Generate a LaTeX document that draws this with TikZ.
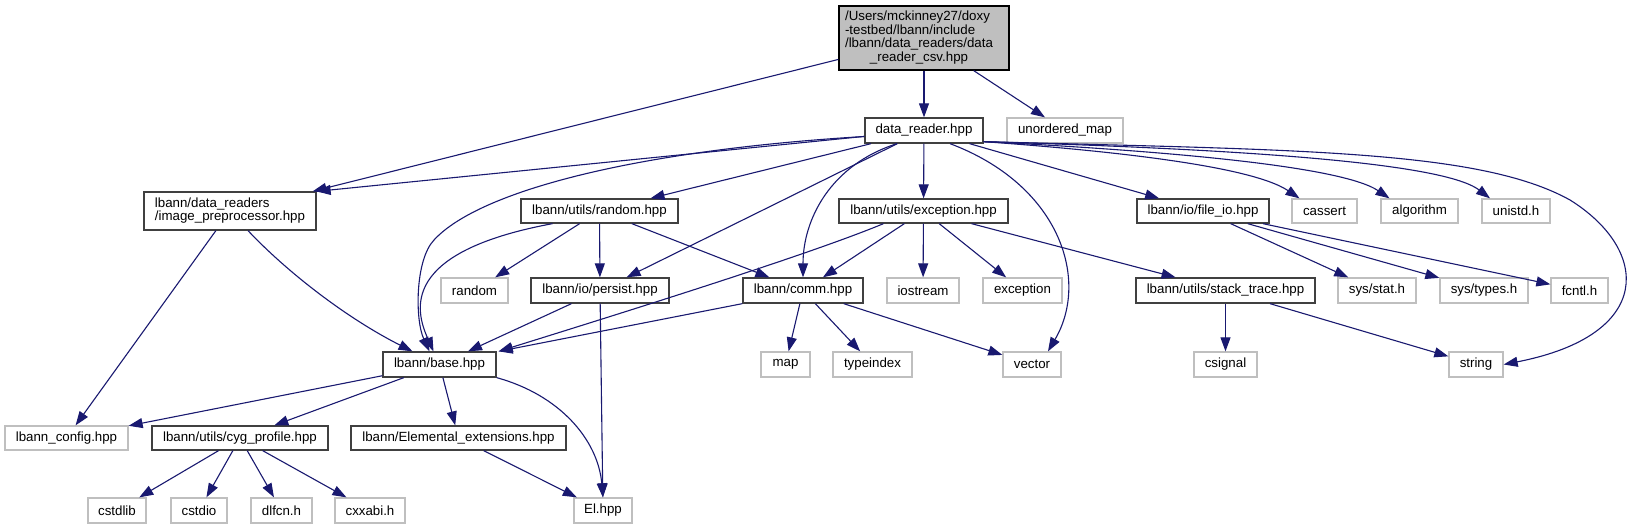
\documentclass[tikz,border=0pt]{standalone}
\usepackage{fontspec}
\setmainfont{Liberation Sans}
\usetikzlibrary{arrows.meta}
\definecolor{edgeblue}{HTML}{191970}
\definecolor{extgray}{HTML}{BFBFBF}
\definecolor{docborder}{HTML}{404040}
\begin{document}
\begin{tikzpicture}[x=1pt,y=-1pt,
  every node/.style={font=\fontsize{13.3pt}{13.3pt}\selectfont, inner sep=0pt, text=black},
  doc/.style={draw=docborder, line width=1.3pt, fill=white, minimum height=25pt},
  ext/.style={draw=extgray, line width=1.3pt, fill=white, minimum height=25pt},
  rootbox/.style={draw=black, line width=1.3pt, fill=extgray, minimum width=170pt, minimum height=64pt},
  edge/.style={draw=edgeblue, line width=1.1pt, -{Triangle[length=14pt,width=10pt]}},
]
\fill[white] (0,0) rectangle (1636,529);
\useasboundingbox (0,0) rectangle (1636,529);

% row 0
\node[rootbox] (root) at (924,38) {\begin{tabular}{@{}l@{\hspace{10pt}}}/Users/mckinney27/doxy\\-testbed/lbann/include\\/lbann/data\_readers/data\\\multicolumn{1}{@{}c@{\hspace{10pt}}}{\_reader\_csv.hpp}\end{tabular}};
% row 1
\node[doc, minimum width=118pt] (dr) at (924,130.5) {data\_reader.hpp};
\node[ext, minimum width=116pt] (um) at (1065,130.5) {unordered\_map};
% row 2
\node[doc, minimum width=172pt, minimum height=38pt] (imgpre) at (230,211) {\begin{tabular}{@{}l@{}}lbann/data\_readers\\/image\_preprocessor.hpp\end{tabular}};
\node[doc, minimum width=157pt, minimum height=24pt] (randh) at (599.5,211) {lbann/utils/random.hpp};
\node[doc, minimum width=169pt, minimum height=24pt] (exh) at (923.5,211) {lbann/utils/exception.hpp};
\node[doc, minimum width=132pt, minimum height=24pt] (fio) at (1203,211) {lbann/io/file\_io.hpp};
\node[ext, minimum width=65pt, minimum height=24pt] (cassert) at (1324.5,211) {cassert};
\node[ext, minimum width=77pt, minimum height=24pt] (algorithm) at (1419.5,211) {algorithm};
\node[ext, minimum width=68pt, minimum height=24pt] (unistd) at (1516,211) {unistd.h};
% row 3
\node[ext, minimum width=67pt] (random) at (474.5,290.5) {random};
\node[doc, minimum width=138pt] (persist) at (600,290.5) {lbann/io/persist.hpp};
\node[doc, minimum width=120pt] (comm) at (803,290.5) {lbann/comm.hpp};
\node[ext, minimum width=72pt] (iostream) at (923,290.5) {iostream};
\node[ext, minimum width=79pt] (exception) at (1022.5,290.5) {exception};
\node[doc, minimum width=179pt] (st) at (1225.5,290.5) {lbann/utils/stack\_trace.hpp};
\node[ext, minimum width=78pt] (sysstat) at (1377,290.5) {sys/stat.h};
\node[ext, minimum width=88pt] (systypes) at (1484,290.5) {sys/types.h};
\node[ext, minimum width=57pt] (fcntl) at (1579.5,290.5) {fcntl.h};
% row 4
\node[doc, minimum width=113pt] (base) at (439.5,364.5) {lbann/base.hpp};
\node[ext, minimum width=49pt] (map) at (785.5,364.5) {map};
\node[ext, minimum width=79pt] (typeindex) at (872.5,364.5) {typeindex};
\node[ext, minimum width=58pt] (vector) at (1032,364.5) {vector};
\node[ext, minimum width=63pt] (csignal) at (1225.5,364.5) {csignal};
\node[ext, minimum width=54pt] (string) at (1476,364.5) {string};
% row 5
\node[ext, minimum width=123pt, minimum height=24pt] (config) at (66.5,438) {lbann\_config.hpp};
\node[doc, minimum width=176pt, minimum height=24pt] (cyg) at (240,438) {lbann/utils/cyg\_profile.hpp};
\node[doc, minimum width=215pt, minimum height=24pt] (elem) at (458.5,438) {lbann/Elemental\_extensions.hpp};
% row 6
\node[ext, minimum width=58pt] (cstdlib) at (117,510.5) {cstdlib};
\node[ext, minimum width=56pt] (cstdio) at (199,510.5) {cstdio};
\node[ext, minimum width=61pt] (dlfcn) at (281.5,510.5) {dlfcn.h};
\node[ext, minimum width=70pt] (cxxabi) at (370,510.5) {cxxabi.h};
\node[ext, minimum width=58pt] (el) at (603,510.5) {El.hpp};

% edges from root
\draw[edge] (root) -- ([xshift=-4pt]imgpre.north east);
\draw[edge] (root) -- (dr);
\draw[edge] (root) -- (um);
% edges from data_reader
\draw[edge] (dr) -- (imgpre.north east);
\draw[edge] ([yshift=-6pt]dr.west) .. controls (640,150) and (480,190) .. (434,240) .. controls (415,260) and (415,320) .. ([xshift=-10pt]base.north);
\draw[edge] (dr) -- (randh);
\draw[edge] (dr) -- (persist);
\draw[edge] ([xshift=-27pt]dr.south) .. controls (830,165) and (803,220) .. (comm.north);
\draw[edge] (dr) -- (exh);
\draw[edge] ([xshift=26pt]dr.south) .. controls (1060,185) and (1090,280) .. ([xshift=16pt]vector.north);
\draw[edge] (dr) -- (fio);
\draw[edge] ([yshift=2pt]dr.south east) .. controls (1100,150) and (1250,165) .. ([xshift=-25pt]cassert.north);
\draw[edge] ([yshift=2pt]dr.south east) .. controls (1150,150) and (1340,165) .. ([xshift=-30pt]algorithm.north);
\draw[edge] ([yshift=2pt]dr.south east) .. controls (1200,148) and (1440,160) .. ([xshift=-26pt]unistd.north);
\draw[edge] ([yshift=2pt]dr.south east) .. controls (1300,150) and (1480,150) .. (1570,200) .. controls (1650,250) and (1655,335) .. (string.east);
% image_preprocessor
\draw[edge] (imgpre) -- (config);
\draw[edge] ([xshift=18pt]imgpre.south) .. controls (290,275) and (350,320) .. ([xshift=-27pt]base.north);
% random.hpp
\draw[edge] ([xshift=-47pt]randh.south) .. controls (400,252) and (415,310) .. ([xshift=-6pt]base.north);
\draw[edge] (randh) -- (random);
\draw[edge] (randh) -- (persist);
\draw[edge] (randh) -- (comm);
% exception.hpp
\draw[edge] ([xshift=-40pt]exh.south) .. controls (820,250) and (680,295) .. ([xshift=2pt]base.north east);
\draw[edge] (exh) -- (comm);
\draw[edge] (exh) -- (iostream);
\draw[edge] (exh) -- (exception);
\draw[edge] (exh) -- (st);
% file_io
\draw[edge] (fio) -- (sysstat);
\draw[edge] (fio) -- (systypes);
\draw[edge] (fio) -- (fcntl);
% persist
\draw[edge] (persist) -- (base);
\draw[edge] (persist) -- (el);
% comm
\draw[edge] (comm.south west) -- ([xshift=2pt]base.north east);
\draw[edge] (comm) -- (map);
\draw[edge] (comm) -- (typeindex);
\draw[edge] (comm) -- (vector);
% stack_trace
\draw[edge] (st) -- (csignal);
\draw[edge] (st) -- (string);
% base
\draw[edge] (base) -- (config);
\draw[edge] (base) -- (cyg);
\draw[edge] (base) -- (elem);
\draw[edge] (base.south east) .. controls (560,395) and (598,440) .. (el.north);
% cyg_profile
\draw[edge] (cyg) -- (cstdlib);
\draw[edge] (cyg) -- (cstdio);
\draw[edge] (cyg) -- (dlfcn);
\draw[edge] (cyg) -- (cxxabi);
% Elemental
\draw[edge] (elem) -- (el);
\end{tikzpicture}
\end{document}
